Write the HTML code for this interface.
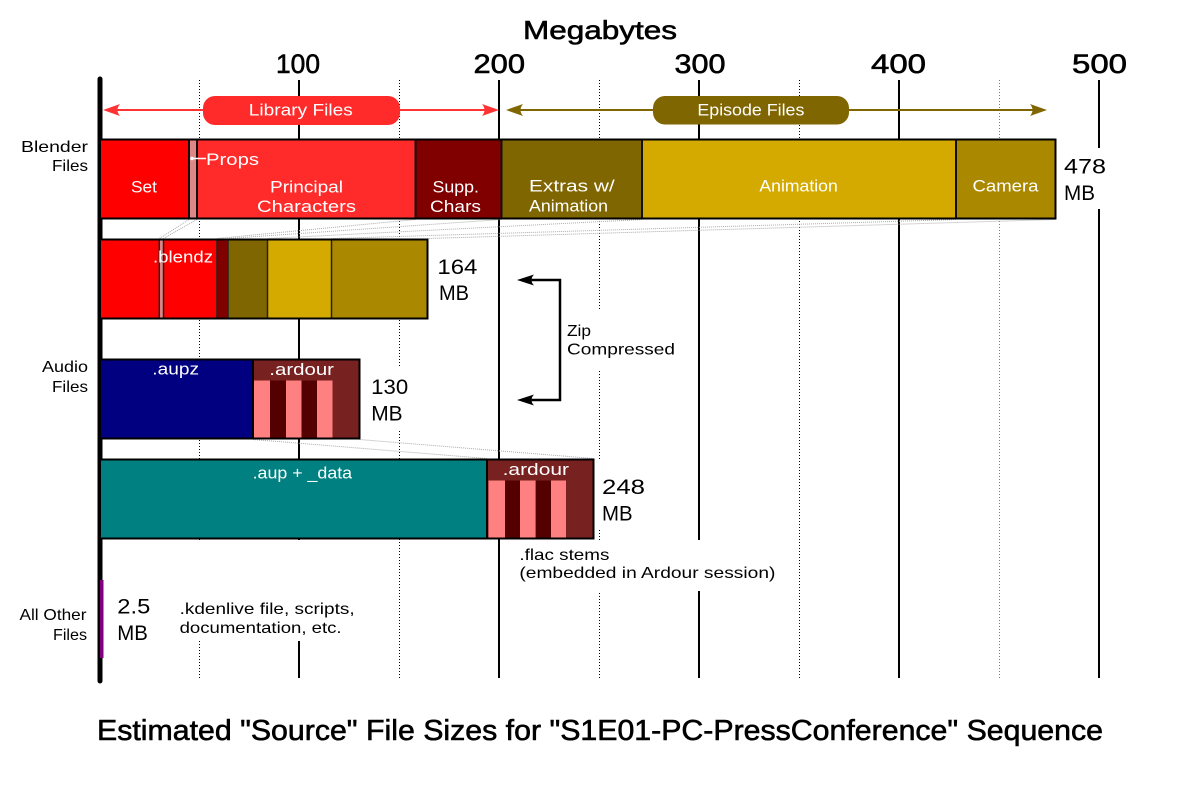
<!DOCTYPE html>
<html><head><meta charset="utf-8"><style>
html,body{margin:0;padding:0;background:#fff;}
svg{display:block;}
text{font-family:"Liberation Sans",sans-serif;}
</style></head><body>
<svg width="1200" height="800" viewBox="0 0 1200 800" xmlns="http://www.w3.org/2000/svg">
<rect x="0" y="0" width="1200" height="800" fill="#fff"/>
<!-- gridlines -->
<g stroke="#000" stroke-width="2">
<line x1="299" y1="80" x2="299" y2="678"/>
<line x1="499" y1="80" x2="499" y2="678"/>
<line x1="699" y1="80" x2="699" y2="678"/>
<line x1="899" y1="80" x2="899" y2="678"/>
<line x1="1099" y1="80" x2="1099" y2="678"/>
</g>
<g stroke="#000" stroke-width="1" stroke-dasharray="1,2">
<line x1="199.5" y1="80" x2="199.5" y2="678"/>
<line x1="399.5" y1="80" x2="399.5" y2="678"/>
<line x1="599.5" y1="80" x2="599.5" y2="678"/>
<line x1="799.5" y1="80" x2="799.5" y2="678"/>
<line x1="999.5" y1="80" x2="999.5" y2="678" stroke="#777"/>
</g>
<!-- connectors -->
<g stroke="#aaa" stroke-width="1" stroke-dasharray="1,1" fill="none">
<line x1="189" y1="219.5" x2="159.5" y2="238.5"/>
<line x1="197" y1="219.5" x2="163.5" y2="238.5"/>
<line x1="415.5" y1="219.5" x2="217" y2="238.5"/>
<line x1="501.5" y1="219.5" x2="228" y2="238.5"/>
<line x1="642" y1="219.5" x2="267.5" y2="238.5"/>
<line x1="956" y1="219.5" x2="331.5" y2="238.5"/>
<line x1="1055.5" y1="219.5" x2="427.5" y2="238.5"/>
<line x1="253" y1="439.5" x2="487" y2="458.5"/>
<line x1="359.5" y1="439.5" x2="593.5" y2="458.5"/>
</g>
<!-- white text backgrounds -->
<g fill="#fff">
<rect x="1060" y="148" width="52" height="61"/>
<rect x="366" y="367" width="46" height="62"/>
<rect x="563" y="310" width="117" height="61"/>
<rect x="515" y="540" width="265" height="51"/>
<rect x="175" y="540" width="184" height="101"/>
<rect x="596" y="460" width="54" height="70"/>
</g>
<!-- axis -->
<line x1="100" y1="79" x2="100" y2="681" stroke="#000" stroke-width="5" stroke-linecap="round"/>

<!-- Blender bar -->
<g>
<rect x="100" y="139.5" width="89" height="79" fill="#ff0000"/>
<rect x="189" y="139.5" width="8" height="79" fill="#de8787"/>
<rect x="197" y="139.5" width="218.5" height="79" fill="#ff2a2a"/>
<rect x="415.5" y="139.5" width="86" height="79" fill="#800000"/>
<rect x="501.5" y="139.5" width="140.5" height="79" fill="#806600"/>
<rect x="642" y="139.5" width="314" height="79" fill="#d4aa00"/>
<rect x="956" y="139.5" width="99.5" height="79" fill="#aa8800"/>
<g stroke="#111" stroke-width="2">
<line x1="189" y1="139.5" x2="189" y2="218.5"/>
<line x1="197" y1="139.5" x2="197" y2="218.5"/>
<line x1="415.5" y1="139.5" x2="415.5" y2="218.5"/>
<line x1="501.5" y1="139.5" x2="501.5" y2="218.5"/>
<line x1="642" y1="139.5" x2="642" y2="218.5"/>
<line x1="956" y1="139.5" x2="956" y2="218.5"/>
</g>
<rect x="100" y="139.5" width="955.5" height="79" fill="none" stroke="#000" stroke-width="2"/>
</g>

<!-- blendz bar -->
<g>
<rect x="100" y="239.5" width="59.5" height="79" fill="#ff0000"/>
<rect x="159.5" y="239.5" width="4" height="79" fill="#de8787"/>
<rect x="163.5" y="239.5" width="53.5" height="79" fill="#ff0000"/>
<rect x="217" y="239.5" width="11" height="79" fill="#800000"/>
<rect x="228" y="239.5" width="39.5" height="79" fill="#806600"/>
<rect x="267.5" y="239.5" width="64" height="79" fill="#d4aa00"/>
<rect x="331.5" y="239.5" width="96" height="79" fill="#aa8800"/>
<g stroke="#222" stroke-width="1.5">
<line x1="159.3" y1="239.5" x2="159.3" y2="318.5"/>
<line x1="163.5" y1="239.5" x2="163.5" y2="318.5"/>
<line x1="217" y1="239.5" x2="217" y2="318.5"/>
<line x1="228" y1="239.5" x2="228" y2="318.5"/>
<line x1="267.5" y1="239.5" x2="267.5" y2="318.5"/>
<line x1="331.5" y1="239.5" x2="331.5" y2="318.5"/>
</g>
<rect x="100" y="239.5" width="327.5" height="79" fill="none" stroke="#000" stroke-width="2"/>
</g>

<!-- audio compressed bar -->
<g>
<rect x="100" y="359.5" width="153" height="79" fill="#000080"/>
<rect x="253" y="359.5" width="106.5" height="79" fill="#782121"/>
<rect x="254" y="380.5" width="16" height="58" fill="#ff8080"/>
<rect x="270" y="380.5" width="16" height="58" fill="#550000"/>
<rect x="286" y="380.5" width="15.5" height="58" fill="#ff8080"/>
<rect x="301.5" y="380.5" width="15.5" height="58" fill="#550000"/>
<rect x="317" y="380.5" width="15.5" height="58" fill="#ff8080"/>
<line x1="253" y1="359.5" x2="253" y2="438.5" stroke="#000" stroke-width="2"/>
<rect x="100" y="359.5" width="259.5" height="79" fill="none" stroke="#000" stroke-width="2"/>
</g>

<!-- audio uncompressed bar -->
<g>
<rect x="100" y="459.5" width="387" height="79" fill="#008080"/>
<rect x="487" y="459.5" width="106.5" height="79" fill="#782121"/>
<rect x="488.5" y="480.5" width="16.5" height="58" fill="#ff8080"/>
<rect x="505" y="480.5" width="15" height="58" fill="#550000"/>
<rect x="520" y="480.5" width="15.7" height="58" fill="#ff8080"/>
<rect x="535.7" y="480.5" width="15.3" height="58" fill="#550000"/>
<rect x="551" y="480.5" width="15" height="58" fill="#ff8080"/>
<line x1="487" y1="459.5" x2="487" y2="538.5" stroke="#000" stroke-width="2"/>
<rect x="100" y="459.5" width="493.5" height="79" fill="none" stroke="#000" stroke-width="2"/>
</g>

<!-- other files -->
<rect x="100" y="580" width="3.5" height="78" fill="#800080"/>

<!-- Library arrow -->
<line x1="108" y1="110" x2="494" y2="110" stroke="#ff3333" stroke-width="2"/>
<path d="M103,110 L120,104 Q115,110 120,116 Z" fill="#ff3333"/>
<path d="M499,110 L482,104 Q487,110 482,116 Z" fill="#ff3333"/>
<rect x="203" y="96" width="197" height="29" rx="12" ry="12" fill="#ff2a2a"/>
<!-- Episode arrow -->
<line x1="511" y1="110" x2="1042" y2="110" stroke="#806600" stroke-width="2"/>
<path d="M506,110 L523,104 Q518,110 523,116 Z" fill="#806600"/>
<path d="M1047,110 L1030,104 Q1035,110 1030,116 Z" fill="#806600"/>
<rect x="653" y="96" width="196" height="28.5" rx="12" ry="12" fill="#806600"/>

<!-- Zip arrow -->
<polyline points="522,280 560,280 560,400 522,400" fill="none" stroke="#000" stroke-width="2.5"/>
<path d="M517,280 L534,274.5 Q529,280 534,285.5 Z" fill="#000"/>
<path d="M517,400 L534,394.5 Q529,400 534,405.5 Z" fill="#000"/>

<!-- Props pointer -->
<line x1="192" y1="158.5" x2="206" y2="158.5" stroke="#fff" stroke-width="1.5"/>
<circle cx="192" cy="158.5" r="1.8" fill="#fff"/>

<!-- Text -->
<g fill="#000">
<g stroke="#000" stroke-width="0.6">
<text x="523" y="39" font-size="26" textLength="154" lengthAdjust="spacingAndGlyphs">Megabytes</text>
<text x="276" y="73" font-size="27" textLength="44" lengthAdjust="spacingAndGlyphs">100</text>
<text x="473.5" y="73" font-size="27" textLength="51.5" lengthAdjust="spacingAndGlyphs">200</text>
<text x="674.5" y="73" font-size="27" textLength="51" lengthAdjust="spacingAndGlyphs">300</text>
<text x="871" y="73" font-size="27" textLength="55" lengthAdjust="spacingAndGlyphs">400</text>
<text x="1072" y="73" font-size="27" textLength="55" lengthAdjust="spacingAndGlyphs">500</text>
<text x="97" y="740" font-size="29" textLength="1006" lengthAdjust="spacingAndGlyphs">Estimated "Source" File Sizes for "S1E01-PC-PressConference" Sequence</text>
</g>

<text x="21" y="152" font-size="16" textLength="67" lengthAdjust="spacingAndGlyphs">Blender</text>
<text x="52" y="171" font-size="16" textLength="36" lengthAdjust="spacingAndGlyphs">Files</text>
<text x="42" y="372" font-size="16" textLength="46" lengthAdjust="spacingAndGlyphs">Audio</text>
<text x="52" y="392" font-size="16" textLength="36" lengthAdjust="spacingAndGlyphs">Files</text>
<text x="19.5" y="620" font-size="16" textLength="67" lengthAdjust="spacingAndGlyphs">All Other</text>
<text x="53" y="640" font-size="16" textLength="34" lengthAdjust="spacingAndGlyphs">Files</text>

<text x="1064" y="173.3" font-size="21" textLength="42" lengthAdjust="spacingAndGlyphs">478</text>
<text x="1064" y="200" font-size="21" textLength="31" lengthAdjust="spacingAndGlyphs">MB</text>
<text x="437.4" y="274" font-size="21" textLength="40" lengthAdjust="spacingAndGlyphs">164</text>
<text x="439" y="300" font-size="21" textLength="30" lengthAdjust="spacingAndGlyphs">MB</text>
<text x="371.2" y="394" font-size="21" textLength="37" lengthAdjust="spacingAndGlyphs">130</text>
<text x="371.2" y="420.7" font-size="21" textLength="31.4" lengthAdjust="spacingAndGlyphs">MB</text>
<text x="602" y="494" font-size="21" textLength="43" lengthAdjust="spacingAndGlyphs">248</text>
<text x="602" y="520.7" font-size="21" textLength="30.6" lengthAdjust="spacingAndGlyphs">MB</text>
<text x="117.3" y="613.3" font-size="21" textLength="33" lengthAdjust="spacingAndGlyphs">2.5</text>
<text x="117.3" y="640" font-size="21" textLength="30.6" lengthAdjust="spacingAndGlyphs">MB</text>

<text x="567" y="336" font-size="16" textLength="24" lengthAdjust="spacingAndGlyphs">Zip</text>
<text x="567" y="354.3" font-size="16" textLength="108" lengthAdjust="spacingAndGlyphs">Compressed</text>
<text x="519.4" y="560" font-size="16" textLength="90" lengthAdjust="spacingAndGlyphs">.flac stems</text>
<text x="519.4" y="578" font-size="16" textLength="256" lengthAdjust="spacingAndGlyphs">(embedded in Ardour session)</text>
<text x="179.6" y="614" font-size="16" textLength="175" lengthAdjust="spacingAndGlyphs">.kdenlive file, scripts,</text>
<text x="179.6" y="633" font-size="16" textLength="162" lengthAdjust="spacingAndGlyphs">documentation, etc.</text>
</g>

<g fill="#fff">
<text x="248.8" y="115.5" font-size="17" textLength="104" lengthAdjust="spacingAndGlyphs">Library Files</text>
<text x="697.4" y="115.5" font-size="17" textLength="107" lengthAdjust="spacingAndGlyphs">Episode Files</text>
<text x="206" y="165" font-size="17" textLength="53" lengthAdjust="spacingAndGlyphs">Props</text>
<text x="131" y="192.7" font-size="17" textLength="26" lengthAdjust="spacingAndGlyphs">Set</text>
<text x="270" y="192.7" font-size="17" textLength="73" lengthAdjust="spacingAndGlyphs">Principal</text>
<text x="257" y="212" font-size="17" textLength="99" lengthAdjust="spacingAndGlyphs">Characters</text>
<text x="432.5" y="192.7" font-size="17" textLength="46.5" lengthAdjust="spacingAndGlyphs">Supp.</text>
<text x="430" y="212" font-size="17" textLength="51" lengthAdjust="spacingAndGlyphs">Chars</text>
<text x="529" y="191.7" font-size="17" textLength="85.7" lengthAdjust="spacingAndGlyphs">Extras w/</text>
<text x="529" y="211.7" font-size="17" textLength="79" lengthAdjust="spacingAndGlyphs">Animation</text>
<text x="759.4" y="191.7" font-size="17" textLength="78.4" lengthAdjust="spacingAndGlyphs">Animation</text>
<text x="972.5" y="191.7" font-size="17" textLength="66" lengthAdjust="spacingAndGlyphs">Camera</text>
<text x="153" y="262.7" font-size="17" textLength="60" lengthAdjust="spacingAndGlyphs">.blendz</text>
<text x="152.3" y="374.3" font-size="17" textLength="46.7" lengthAdjust="spacingAndGlyphs">.aupz</text>
<text x="269.3" y="375" font-size="17" textLength="64.7" lengthAdjust="spacingAndGlyphs">.ardour</text>
<text x="252.6" y="478.3" font-size="17" textLength="99.5" lengthAdjust="spacingAndGlyphs">.aup + _data</text>
<text x="502.6" y="475" font-size="17" textLength="66.4" lengthAdjust="spacingAndGlyphs">.ardour</text>
</g>
</svg>
</body></html>
